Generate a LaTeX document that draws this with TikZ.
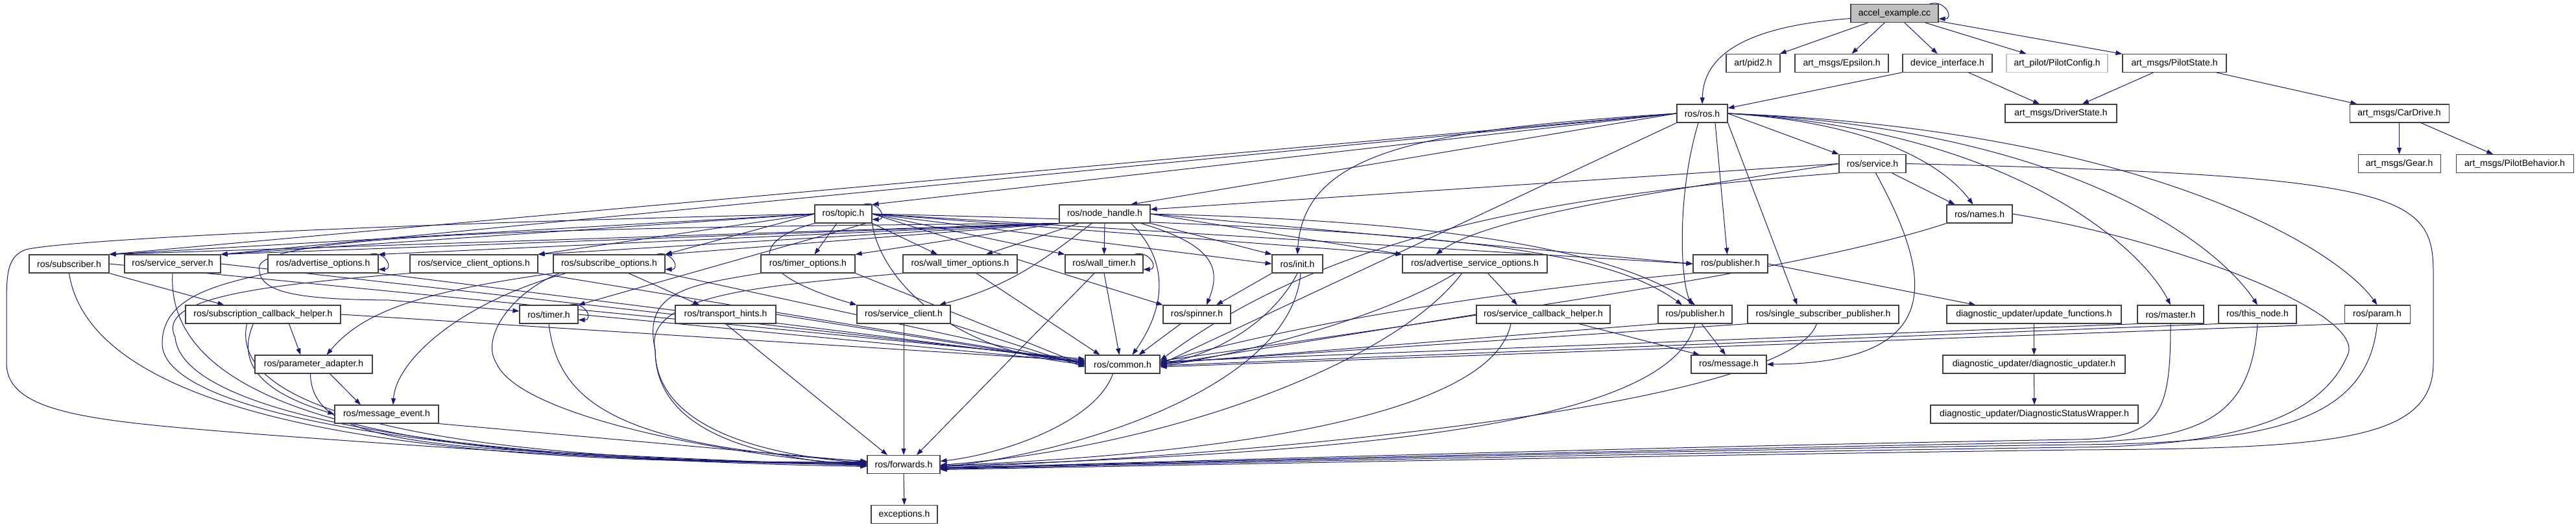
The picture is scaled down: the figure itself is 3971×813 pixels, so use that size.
\documentclass[tikz,border=0pt]{standalone}
\usepackage{fontspec}
\setmainfont{Liberation Sans}
\usepackage{xcolor}
\definecolor{edgeblue}{RGB}{25,25,112}
\definecolor{boxgray}{RGB}{64,64,64}
\definecolor{rootgray}{RGB}{191,191,191}
\definecolor{missgray}{RGB}{191,191,191}
\usetikzlibrary{arrows.meta}
\pgfdeclarelayer{bg}
\pgfdeclarelayer{edges}
\pgfsetlayers{bg,edges,main}
\tikzset{
  hfile/.style={draw=boxgray, fill=white, line width=1.1pt, minimum height=28pt,
                inner sep=0pt, font=\fontsize{14pt}{16pt}\selectfont},
  inc/.style={draw=edgeblue, line width=1pt, -{Triangle[length=10pt,width=7pt]}}
}
\newcommand{\selfinc}[1]{%
  \draw[inc] ([xshift=-14pt]#1.north east) .. controls +(24,7) and +(24,0)
        .. ([yshift=6pt]#1.south east);}

\begin{document}
\begin{tikzpicture}[x=1pt, y=1pt]
  % Background and page size
  \begin{pgfonlayer}{bg}
    \fill[white] (0,0) rectangle (3971,-813);
  \end{pgfonlayer}
  \useasboundingbox (0,0) rectangle (3971,-813);

  % --- Row 0: the source file ---
  \node[hfile, fill=rootgray, minimum width=135pt] (accel) at (2920.5,-20.5) {accel\_example.cc};

  % --- Row 1 ---
  \node[hfile, minimum width=83pt]  (pid2)   at (2702.5,-97.5) {art/pid2.h};
  \node[hfile, minimum width=144pt] (eps)    at (2839,-97.5)   {art\_msgs/Epsilon.h};
  \node[hfile, minimum width=138pt] (devif)  at (3002,-97.5)   {device\_interface.h};
  \node[hfile, draw=missgray, minimum width=156pt] (pcfg) at (3171,-97.5) {art\_pilot/PilotConfig.h};
  \node[hfile, minimum width=160pt] (pstate) at (3352,-97.5)   {art\_msgs/PilotState.h};

  % --- Row 2 ---
  \node[hfile, minimum width=78pt]  (ros)    at (2624,-175)    {ros/ros.h};
  \node[hfile, minimum width=172pt] (drvst)  at (3177,-175)    {art\_msgs/DriverState.h};
  \node[hfile, minimum width=153pt] (cardrv) at (3698.5,-175)  {art\_msgs/CarDrive.h};

  % --- Row 3 ---
  \node[hfile, minimum width=103pt] (service) at (2886.5,-252.5) {ros/service.h};
  \node[hfile, minimum width=127pt] (gear)    at (3698.5,-252.5) {art\_msgs/Gear.h};
  \node[hfile, minimum width=181pt] (pbeh)    at (3876.5,-252.5) {art\_msgs/PilotBehavior.h};

  % --- Row 4 ---
  \node[hfile, minimum width=88pt]  (topic) at (1300,-330)   {ros/topic.h};
  \node[hfile, minimum width=140pt] (nh)    at (1703,-330)   {ros/node\_handle.h};
  \node[hfile, minimum width=101pt] (names) at (3051.5,-330) {ros/names.h};

  % --- Row 5 ---
  \node[hfile, minimum width=123pt] (subscriber) at (106.5,-407)  {ros/subscriber.h};
  \node[hfile, minimum width=148pt] (srvserver)  at (266,-407)    {ros/service\_server.h};
  \node[hfile, minimum width=170pt] (advopt)     at (498,-407)    {ros/advertise\_options.h};
  \node[hfile, minimum width=197pt] (scopt)      at (730.5,-407)  {ros/service\_client\_options.h};
  \node[hfile, minimum width=172pt] (subopt)     at (939,-407)    {ros/subscribe\_options.h};
  \node[hfile, minimum width=145pt] (timeropt)   at (1245.5,-407) {ros/timer\_options.h};
  \node[hfile, minimum width=176pt] (wtopt)      at (1480,-407)   {ros/wall\_timer\_options.h};
  \node[hfile, minimum width=120pt] (wtimer)     at (1702,-407)   {ros/wall\_timer.h};
  \node[hfile, minimum width=78pt]  (init)       at (2000,-407)   {ros/init.h};
  \node[hfile, minimum width=223pt] (asopt)      at (2273.5,-407) {ros/advertise\_service\_options.h};
  \node[hfile, minimum width=115pt] (pub)        at (2667.5,-407) {ros/publisher.h};

  % --- Row 6 ---
  \node[hfile, minimum width=239pt] (sch)      at (405.5,-485)  {ros/subscription\_callback\_helper.h};
  \node[hfile, minimum width=90pt]  (timer)    at (846,-485)    {ros/timer.h};
  \node[hfile, minimum width=155pt] (thints)   at (1118.5,-485) {ros/transport\_hints.h};
  \node[hfile, minimum width=144pt] (sclient)  at (1393,-485)   {ros/service\_client.h};
  \node[hfile, minimum width=104pt] (spinner)  at (1845,-485)   {ros/spinner.h};
  \node[hfile, minimum width=206pt] (svch)     at (2379,-485)   {ros/service\_callback\_helper.h};
  \node[hfile, minimum width=114pt] (pub2)     at (2613,-485)   {ros/publisher.h};
  \node[hfile, minimum width=233pt] (ssp)      at (2810.5,-485) {ros/single\_subscriber\_publisher.h};
  \node[hfile, minimum width=269pt] (updfn)    at (3135.5,-485) {diagnostic\_updater/update\_functions.h};
  \node[hfile, minimum width=102pt] (master)   at (3346,-485)   {ros/master.h};
  \node[hfile, minimum width=120pt] (thisnode) at (3480,-485)   {ros/this\_node.h};
  \node[hfile, minimum width=101pt] (param)    at (3664.5,-485) {ros/param.h};

  % --- Row 7 ---
  \node[hfile, minimum width=181pt] (padapt)  at (483.5,-562)  {ros/parameter\_adapter.h};
  \node[hfile, minimum width=115pt] (common)  at (1730.5,-562) {ros/common.h};
  \node[hfile, minimum width=116pt] (message) at (2665,-562)   {ros/message.h};
  \node[hfile, minimum width=281pt] (diagup)  at (3135.5,-562) {diagnostic\_updater/diagnostic\_updater.h};

  % --- Rows 8 to 10 ---
  \node[hfile, minimum width=160pt] (msgevt)     at (596,-639)    {ros/message\_event.h};
  \node[hfile, minimum width=320pt] (dsw)        at (3136,-639)   {diagnostic\_updater/DiagnosticStatusWrapper.h};
  \node[hfile, minimum width=112pt] (forwards)   at (1393,-716.5) {ros/forwards.h};
  \node[hfile, minimum width=102pt] (exceptions) at (1394,-793.5) {exceptions.h};

  \begin{pgfonlayer}{edges}
  % --- accel_example.cc ---
  \selfinc{accel}
  \draw[inc] ([yshift=-8pt]accel.west) .. controls (2700,-40) and (2626,-80) .. (ros.north);
  \draw[inc] (accel) -- (pid2);
  \draw[inc] (accel) -- (eps);
  \draw[inc] (accel) -- (devif);
  \draw[inc] (accel) -- (pcfg);
  \draw[inc] (accel) -- (pstate);

  % --- art headers ---
  \draw[inc] (devif) -- (ros);
  \draw[inc] (devif) -- (drvst);
  \draw[inc] (pstate) -- (drvst);
  \draw[inc] (pstate) -- (cardrv);
  \draw[inc] (cardrv) -- (gear);
  \draw[inc] (cardrv) -- (pbeh);

  % --- ros/ros.h ---
  \draw[inc] (ros.west) -- (subscriber.north east);
  \draw[inc] (ros.west) -- (srvserver.north east);
  \draw[inc] (ros.west) -- (topic.north east);
  \draw[inc] (ros.west) -- ([xshift=40pt]nh.north);
  \draw[inc] (ros.west) .. controls (2200,-200) and (2010,-230) .. (init.north);
  \draw[inc] (ros.south west) -- (common.east);
  \draw[inc] ([xshift=20pt]ros.south) -- ([xshift=-5pt]pub.north);
  \draw[inc] ([xshift=-6pt]ros.south) .. controls (2585,-300) and (2590,-430) .. ([xshift=-5pt]pub2.north);
  \draw[inc] (ros.south east) -- ([xshift=-40pt]ssp.north);
  \draw[inc] (ros.east) -- (service.north west);
  \draw[inc] (ros.east) .. controls (2900,-190) and (3000,-260) .. ([xshift=-10pt]names.north);
  \draw[inc] (ros.east) .. controls (3100,-200) and (3300,-380) .. (master.north);
  \draw[inc] (ros.east) .. controls (3200,-200) and (3420,-380) .. (thisnode.north);
  \draw[inc] (ros.east) .. controls (3300,-200) and (3600,-380) .. (param.north);

  % --- ros/service.h and ros/names.h ---
  \draw[inc] (service.west) -- ([yshift=7pt]nh.east);
  \draw[inc] (service.west) .. controls (2600,-290) and (2300,-330) .. ([xshift=-60pt]asopt.north);
  \draw[inc] ([xshift=30pt]service.south) -- ([xshift=-38pt]names.north);
  \draw[inc] ([xshift=5pt]service.south) .. controls (2975,-420) and (3010,-560) .. (message.east);
  \draw[inc] (service.south west) .. controls (2400,-300) and (2050,-360) .. ([yshift=6pt]common.east);
  \draw[inc] (service.east) .. controls (3700,-270) and (3751,-300) .. (3751,-420) -- (3751,-560)
     .. controls (3751,-680) and (3600,-692) .. (3200,-694)
     .. controls (2600,-702) and (1800,-718) .. ([yshift=-8pt]forwards.east);
  \draw[inc] (names.south west) .. controls (2800,-410) and (2400,-470) .. ([yshift=5pt]common.east);
  \draw[inc] (names.east) .. controls (3350,-370) and (3640,-480) .. (3620,-545)
     .. controls (3590,-620) and (3500,-688) .. (3200,-690)
     .. controls (2600,-698) and (1800,-716) .. ([yshift=-7pt]forwards.east);

  % --- ros/node_handle.h ---
  \draw[inc] (nh.south west) -- (subscriber.north east);
  \draw[inc] (nh.south west) -- (srvserver.north east);
  \draw[inc] (nh.south west) -- (advopt.north east);
  \draw[inc] (nh.south west) -- (scopt.north east);
  \draw[inc] (nh.south west) -- (subopt.north east);
  \draw[inc] (nh.south west) -- (timeropt.north east);
  \draw[inc] ([xshift=-40pt]nh.south) -- ([xshift=40pt]wtopt.north);
  \draw[inc] (nh.south) -- (wtimer.north);
  \draw[inc] (nh.south east) -- (init.north west);
  \draw[inc] (nh.east) -- (asopt.north west);
  \draw[inc] (nh.east) -- (pub.west);
  \draw[inc] (nh.east) .. controls (2200,-340) and (2480,-380) .. (pub2.north);
  \draw[inc] ([xshift=-20pt]nh.south) .. controls (1610,-400) and (1560,-440) .. ([xshift=55pt]sclient.north);
  \draw[inc] (nh.south west) .. controls (900,-350) and (420,-360) .. (400,-410)
     .. controls (395,-450) and (450,-462) .. (600,-463) -- ([yshift=5pt]timer.west);
  \draw[inc] ([xshift=-15pt]nh.south east) .. controls (1880,-380) and (1880,-420) .. ([xshift=15pt]spinner.north);
  \draw[inc] ([xshift=-30pt]nh.south east) .. controls (1800,-400) and (1800,-470) .. ([xshift=15pt]common.north);

  % --- ros/topic.h ---
  \selfinc{topic}
  \draw[inc] (topic.west) -- (subscriber.north east);
  \draw[inc] (topic.west) -- (srvserver.north east);
  \draw[inc] (topic.west) -- (scopt.north east);
  \draw[inc] (topic.west) -- (subopt.north east);
  \draw[inc] ([xshift=-10pt]topic.south) -- ([xshift=10pt]timeropt.north);
  \draw[inc] (topic.south east) -- ([xshift=-35pt]wtopt.north);
  \draw[inc] (topic.east) -- (wtimer.north west);
  \draw[inc] (topic.east) -- (init.west);
  \draw[inc] (topic.east) -- (asopt.north west);
  \draw[inc] (topic.east) -- (pub.west);
  \draw[inc] (topic.east) .. controls (2200,-350) and (2470,-380) .. ([xshift=-20pt]pub2.north);
  \draw[inc] ([xshift=35pt]topic.south) -- (timer.north east);
  \draw[inc] (topic.south west) .. controls (1160,-370) and (1150,-420) .. (sclient.north west);
  \draw[inc] (topic.east) -- (spinner.north west);
  \draw[inc] (topic.south east) .. controls (1355,-420) and (1450,-540) .. (common.west);
  \draw[inc] (topic.west) .. controls (600,-345) and (100,-370) .. (40,-385)
     .. controls (12,-395) and (10,-420) .. (10,-470) -- (10,-560)
     .. controls (10,-640) and (150,-650) .. (400,-670)
     .. controls (800,-700) and (1100,-716) .. ([yshift=-3pt]forwards.west);

  % --- second row of ros headers ---
  \draw[inc] (subscriber.south east) -- ([xshift=-60pt]sch.north);
  \draw[inc] (subscriber.south) .. controls (150,-700) and (900,-716) .. ([yshift=4pt]forwards.west);
  \draw[inc] (subscriber.east) -- ([yshift=8pt]common.west);
  \draw[inc] (srvserver.south) .. controls (250,-710) and (950,-712) .. ([yshift=3pt]forwards.west);
  \draw[inc] (srvserver.east) -- ([yshift=6pt]common.west);
  \selfinc{advopt}
  \draw[inc] (advopt.south west) .. controls (330,-440) and (250,-460) .. (250,-530)
     .. controls (250,-640) and (700,-712) .. ([yshift=1pt]forwards.west);
  \draw[inc] (advopt.south east) -- ([yshift=4pt]common.west);
  \draw[inc] (scopt.south west) .. controls (400,-440) and (240,-460) .. (270,-520)
     .. controls (280,-640) and (700,-712) .. (forwards.west);
  \draw[inc] (scopt.south east) -- ([yshift=2pt]common.west);
  \selfinc{subopt}
  \draw[inc] ([xshift=30pt]subopt.south) -- ([xshift=-40pt]thints.north);
  \draw[inc] (subopt.south west) .. controls (650,-450) and (560,-480) .. ([xshift=20pt]padapt.north);
  \draw[inc] ([xshift=20pt]subopt.south west) .. controls (700,-470) and (610,-560) .. ([xshift=10pt]msgevt.north);
  \draw[inc] ([xshift=10pt]subopt.south west) .. controls (790,-450) and (740,-520) .. (765,-560)
     .. controls (800,-640) and (1100,-700) .. ([yshift=-1pt]forwards.west);
  \draw[inc] (subopt.south east) -- (common.west);
  \draw[inc] (timeropt.south west) .. controls (1060,-440) and (990,-450) .. (1010,-540)
     .. controls (1010,-650) and (1150,-700) .. ([yshift=2pt]forwards.west);
  \draw[inc] (timeropt.south east) -- ([yshift=-2pt]common.west);
  \draw[inc] (wtopt.south west) .. controls (1200,-440) and (990,-450) .. (1010,-540)
     .. controls (1010,-660) and (1150,-705) .. ([yshift=-2pt]forwards.west);
  \draw[inc] ([xshift=25pt]wtopt.south) -- ([xshift=-35pt]common.north);
  \selfinc{wtimer}
  \draw[inc] (wtimer.south) -- ([xshift=-5pt]common.north);
  \draw[inc] ([xshift=-15pt]wtimer.south) -- ([xshift=20pt]forwards.north);
  \draw[inc] (init.south west) -- ([xshift=30pt]spinner.north);
  \draw[inc] (init.south) .. controls (1970,-480) and (1900,-540) .. (common.east);
  \draw[inc] ([xshift=5pt]init.south) .. controls (1990,-600) and (1650,-700) .. ([yshift=-4pt]forwards.east);
  \draw[inc] ([xshift=20pt]asopt.south) -- ([xshift=-40pt]svch.north);
  \draw[inc] ([xshift=-30pt]asopt.south) .. controls (2150,-480) and (1950,-540) .. ([yshift=-3pt]common.east);
  \draw[inc] ([xshift=-20pt]asopt.south) .. controls (2150,-560) and (1800,-690) .. ([yshift=-1pt]forwards.east);
  \draw[inc] (pub.east) -- ([xshift=-90pt]updfn.north);
  \draw[inc] (pub.south west) .. controls (2300,-450) and (2000,-500) .. ([yshift=3pt]common.east);

  % --- third row ---
  \draw[inc] ([xshift=40pt]sch.south) -- ([xshift=-20pt]padapt.north);
  \draw[inc] ([xshift=-15pt]sch.south) .. controls (360,-570) and (420,-610) .. (msgevt.west);
  \draw[inc] ([xshift=-25pt]sch.south) .. controls (350,-640) and (700,-712) .. ([yshift=2pt]forwards.west);
  \draw[inc] (sch.east) -- ([yshift=5pt]common.west);
  \selfinc{timer}
  \draw[inc] (timer.south) .. controls (860,-620) and (950,-690) .. ([yshift=5pt]forwards.west);
  \draw[inc] (timer.east) -- ([yshift=3pt]common.west);
  \draw[inc] (thints.south) -- ([xshift=-25pt]forwards.north);
  \draw[inc] (thints.east) -- ([yshift=1pt]common.west);
  \draw[inc] (sclient.south) -- (forwards.north);
  \draw[inc] (sclient.south east) -- ([yshift=-4pt]common.west);
  \draw[inc] ([xshift=-25pt]spinner.south) -- ([xshift=25pt]common.north);
  \draw[inc] ([xshift=55pt]svch.south) -- ([xshift=-45pt]message.north);
  \draw[inc] (svch.west) -- ([yshift=-1pt]common.east);
  \draw[inc] ([xshift=-50pt]svch.south) .. controls (2300,-640) and (1900,-700) .. ([yshift=-2pt]forwards.east);
  \draw[inc] ([xshift=10pt]pub2.south) -- ([xshift=-5pt]message.north);
  \draw[inc] (pub2.south west) -- ([yshift=1pt]common.east);
  \draw[inc] (pub2.south) .. controls (2570,-670) and (2000,-700) .. ([yshift=-3pt]forwards.east);
  \draw[inc] (ssp.south west) -- ([yshift=2pt]common.east);
  \draw[inc] ([xshift=-10pt]ssp.south) .. controls (2760,-620) and (2000,-700) .. ([yshift=-5pt]forwards.east);
  \draw[inc] (updfn.south) -- (diagup.north);
  \draw[inc] (master.south west) -- ([yshift=4pt]common.east);
  \draw[inc] (master.south) .. controls (3346,-640) and (3330,-676) .. (3200,-678)
     .. controls (2600,-688) and (1800,-712) .. ([yshift=-6pt]forwards.east);
  \draw[inc] (thisnode.south west) -- ([yshift=-2pt]common.east);
  \draw[inc] (thisnode.south) .. controls (3470,-640) and (3400,-680) .. (3200,-682)
     .. controls (2600,-692) and (1800,-714) .. ([yshift=-5pt]forwards.east);
  \draw[inc] (param.south west) -- ([yshift=-4pt]common.east);
  \draw[inc] (param.south) .. controls (3650,-650) and (3500,-684) .. (3200,-686)
     .. controls (2600,-694) and (1800,-715) .. ([yshift=-6pt]forwards.east);

  % --- lower rows ---
  \draw[inc] ([xshift=25pt]padapt.south) -- ([xshift=-40pt]msgevt.north);
  \draw[inc] ([xshift=-5pt]padapt.south) .. controls (480,-650) and (560,-680) .. (800,-695)
     .. controls (1000,-705) and (1200,-714) .. ([yshift=-2pt]forwards.west);
  \draw[inc] (diagup.south) -- (dsw.north);
  \draw[inc] (msgevt.south east) -- ([yshift=4pt]forwards.west);
  \draw[inc] ([xshift=-15pt]common.south) .. controls (1690,-650) and (1550,-700) .. ([yshift=5pt]forwards.east);
  \draw[inc] (forwards.south) -- (exceptions.north);
  \end{pgfonlayer}
\end{tikzpicture}
\end{document}
